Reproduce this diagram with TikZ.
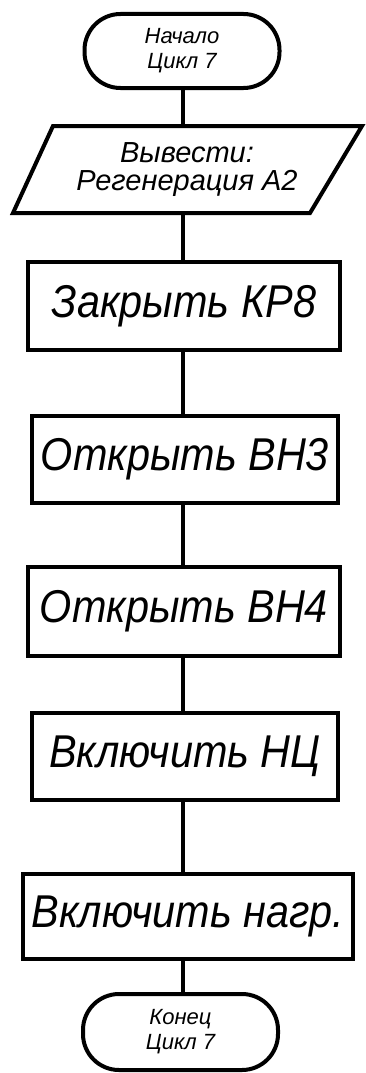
\documentclass[tikz,border=0pt]{standalone}
\usepackage{fontspec}
\setmainfont{Liberation Sans}
\newfontfamily\narrowfont[FakeStretch=0.9]{Liberation Sans}
\usetikzlibrary{calc}
\begin{document}
\begin{tikzpicture}[x=1pt,y=-1pt,
  line/.style={line width=4pt},
  term/.style={draw, line width=4pt, rectangle, rounded corners=36pt, minimum width=195pt, minimum height=74pt, inner sep=0pt, align=center,
    font=\itshape\fontsize{22}{25}\selectfont},
  proc/.style={draw, line width=4.5pt, rectangle, minimum height=88pt, inner sep=0pt, align=center,
    font=\narrowfont\itshape\fontsize{46}{50}\selectfont},
  iotext/.style={minimum width=300pt, minimum height=87pt, inner sep=0pt, align=center,
    font=\itshape\fontsize{29}{28}\selectfont}]
\useasboundingbox (0,0) rectangle (366,1073);
\coordinate (axis) at (183,0);
\node[term] (start) at (182,51) {Начало\\Цикл 7};
\node[iotext] (out) at (187,169.5) {Вывести:\\Регенерация А2};
\draw[line width=4pt, line join=miter] (53,126) -- (362,126) -- (310,213) -- (13,213) -- cycle;
\node[proc, minimum width=312pt] (p1) at (184,306) {Закрыть КР8};
\node[proc, minimum width=306pt, minimum height=87pt] (p2) at (185,459.5) {Открыть ВН3};
\node[proc, minimum width=312pt, minimum height=89pt] (p3) at (184,611.5) {Открыть ВН4};
\node[proc, minimum width=306pt, minimum height=87pt] (p4) at (185,756.5) {Включить НЦ};
\node[proc, line width=3.5pt, minimum width=330pt, minimum height=85pt] (p5) at (188,916.5) {Включить нагр.};
\node[term, minimum height=76pt] (end) at (180.5,1032) {Конец\\Цикл 7};
\draw[line] (start.south -| axis) -- (out.north -| axis);
\draw[line] (out.south -| axis) -- (p1.north -| axis);
\draw[line] (p1.south -| axis) -- (p2.north -| axis);
\draw[line] (p2.south -| axis) -- (p3.north -| axis);
\draw[line] (p3.south -| axis) -- (p4.north -| axis);
\draw[line] (p4.south -| axis) -- (p5.north -| axis);
\draw[line] (p5.south -| axis) -- (end.north -| axis);
\end{tikzpicture}
\end{document}
